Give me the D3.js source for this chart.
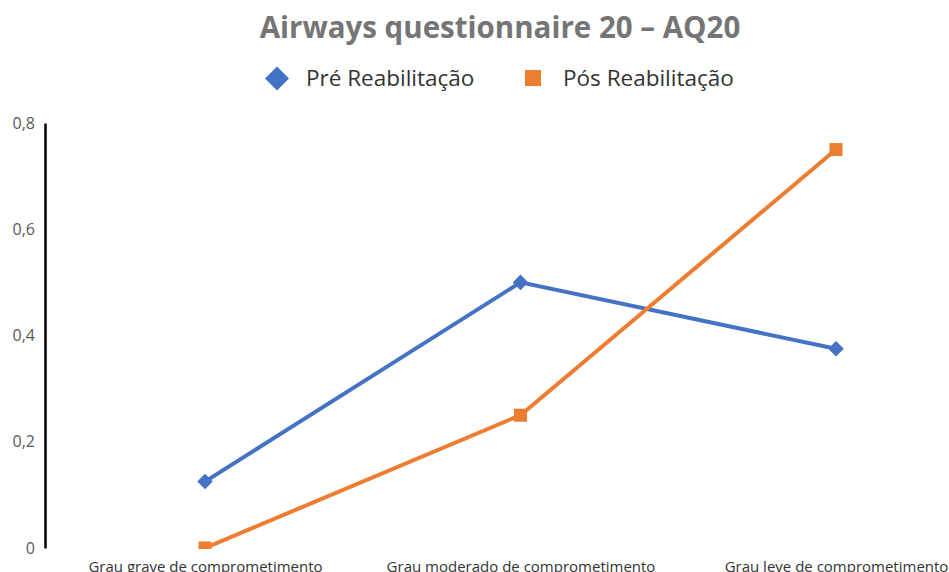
<!DOCTYPE html>
<html><head><meta charset="utf-8">
<script src="https://cdn.jsdelivr.net/npm/d3@7"></script>
<style>body{margin:0;background:#fff;}svg{display:block;font-family:"Open Sans","Noto Sans",sans-serif;}</style>
</head><body>
<script>
const categories = ["Grau grave de comprometimento","Grau moderado de comprometimento","Grau leve de comprometimento"];
const preValues = [0.125, 0.5, 0.375];
const posValues = [0, 0.25, 0.75];
const yTicks = [0, 0.2, 0.4, 0.6, 0.8];
const seriesNames = ["Pré Reabilitação","Pós Reabilitação"];
const colors = ["#4472C4","#ED7D31"];

const W=949,H=572;
const svg=d3.select("body").append("svg").attr("width",W).attr("height",H);
const x=d3.scalePoint().domain(categories).range([205,836]);
const y=d3.scaleLinear().domain([0,0.8]).range([548,123]);

svg.append("defs").append("clipPath").attr("id","plot").append("rect")
  .attr("x",46).attr("y",100).attr("width",W).attr("height",449);

svg.append("text").attr("x",500).attr("y",38).attr("text-anchor","middle")
  .attr("font-size",29.5).attr("font-weight","bold").attr("fill","#757575").text("Airways questionnaire 20 – AQ20");

// legend
const lg=svg.append("g");
lg.append("rect").attr("x",-8.5).attr("y",-8.5).attr("width",17).attr("height",17).attr("transform","translate(277,78.5) rotate(45)").attr("fill",colors[0]);
lg.append("text").attr("x",306).attr("y",86).attr("font-size",22.5).attr("fill","#333").text(seriesNames[0]);
lg.append("rect").attr("x",525).attr("y",70).attr("width",16).attr("height",16).attr("fill",colors[1]);
lg.append("text").attr("x",563).attr("y",86).attr("font-size",22.5).attr("fill","#333").text(seriesNames[1]);

// y axis
const ya=svg.append("g").attr("transform","translate(45,0)").call(d3.axisLeft(y).tickValues(yTicks).tickSize(0).tickPadding(10).tickFormat(d=>d3.format(".1f")(d).replace(".",",").replace(/^0,0$/,"0")));
ya.select(".domain").attr("stroke","#000").attr("stroke-width",2.5);
ya.selectAll("text").attr("font-size",16).attr("fill","#595959").attr("font-family","'Open Sans','Noto Sans',sans-serif");

// x axis labels
const xa=svg.append("g").attr("transform","translate(0,548)").call(d3.axisBottom(x).tickSize(0).tickPadding(13));
xa.select(".domain").remove();
xa.selectAll("text").attr("font-size",15).attr("fill","#333").attr("font-family","'Open Sans','Noto Sans',sans-serif");

const plot=svg.append("g").attr("clip-path","url(#plot)");
const line=d3.line().x((d,i)=>x(categories[i])).y(d=>y(d));
[preValues,posValues].forEach((vals,k)=>{
  plot.append("path").attr("d",line(vals)).attr("fill","none").attr("stroke",colors[k]).attr("stroke-width",4);
});
plot.selectAll(".pre").data(preValues).enter().append("rect")
  .attr("x",-5.5).attr("y",-5.5).attr("width",11).attr("height",11)
  .attr("transform",(d,i)=>`translate(${x(categories[i])},${y(d)}) rotate(45)`).attr("fill",colors[0]);
plot.selectAll(".pos").data(posValues).enter().append("rect")
  .attr("x",(d,i)=>x(categories[i])-6.5).attr("y",d=>y(d)-6.5).attr("width",13).attr("height",13).attr("fill",colors[1]);
</script>
</body></html>
